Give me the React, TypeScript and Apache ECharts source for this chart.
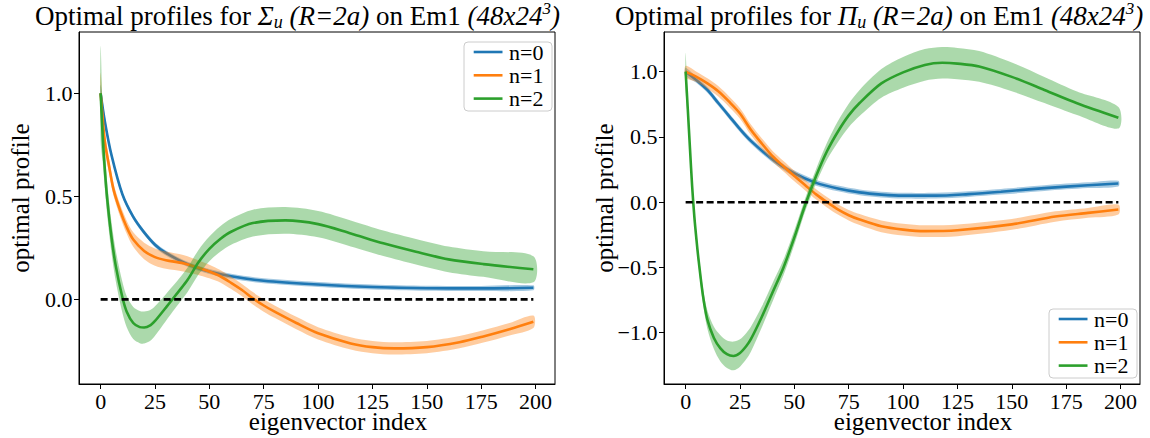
import React, { useEffect, useRef } from "react";
import * as echarts from "echarts";

// ---------- data ----------
// Left panel: Sigma_u
const sigX0 = [0, 2, 5, 10, 15, 20, 25, 30, 40, 50, 60, 75, 100, 125, 150, 175, 199];
const sigY0 = [1.0, 0.86, 0.70, 0.51, 0.40, 0.325, 0.265, 0.225, 0.17, 0.135, 0.112, 0.09, 0.072, 0.06, 0.054, 0.053, 0.056];
const sigE0 = [0.04, 0.025, 0.015, 0.012, 0.012, 0.012, 0.012, 0.012, 0.012, 0.012, 0.012, 0.012, 0.012, 0.012, 0.012, 0.012, 0.012];

const sigX1 = [0, 1, 2, 4, 6, 9, 12, 15, 20, 25, 30, 38, 46, 50, 55, 60, 65, 70, 75, 80, 90, 100, 115, 125, 135, 150, 165, 176, 188, 199];
const sigY1 = [1.0, 0.87, 0.76, 0.64, 0.53, 0.43, 0.35, 0.29, 0.235, 0.205, 0.19, 0.175, 0.15, 0.135, 0.112, 0.08, 0.045, 0.005, -0.03, -0.06, -0.115, -0.165, -0.214, -0.232, -0.238, -0.232, -0.208, -0.18, -0.145, -0.109];
const sigE1 = [0.1, 0.06, 0.045, 0.035, 0.03, 0.03, 0.032, 0.035, 0.04, 0.042, 0.042, 0.04, 0.035, 0.033, 0.03, 0.03, 0.03, 0.03, 0.03, 0.03, 0.03, 0.03, 0.03, 0.03, 0.03, 0.03, 0.03, 0.03, 0.03, 0.03];

const sigX2 = [0, 1, 2, 3, 5, 7, 10, 12, 15, 18, 20, 23, 25, 30, 33, 36, 40, 45, 50, 55, 60, 70, 85, 100, 115, 130, 145, 160, 176, 199];
const sigY2 = [1.0, 0.78, 0.62, 0.49, 0.30, 0.16, 0.01, -0.06, -0.115, -0.135, -0.137, -0.125, -0.105, -0.04, 0.0, 0.04, 0.095, 0.18, 0.245, 0.293, 0.328, 0.37, 0.383, 0.365, 0.32, 0.272, 0.231, 0.194, 0.171, 0.146];
const sigE2 = [0.23, 0.12, 0.09, 0.08, 0.075, 0.075, 0.075, 0.075, 0.078, 0.078, 0.078, 0.075, 0.072, 0.065, 0.062, 0.06, 0.06, 0.06, 0.06, 0.062, 0.063, 0.065, 0.065, 0.064, 0.063, 0.062, 0.062, 0.062, 0.062, 0.063];

// Right panel: Pi_u
const piX0 = [0, 5, 10, 15, 20, 25, 30, 40, 50, 60, 70, 80, 90, 100, 115, 130, 145, 165, 185, 199];
const piY0 = [1.0, 0.935, 0.86, 0.76, 0.66, 0.56, 0.47, 0.327, 0.22, 0.148, 0.105, 0.075, 0.058, 0.05, 0.05, 0.062, 0.08, 0.108, 0.13, 0.143];
const piE0 = [0.03, 0.022, 0.022, 0.022, 0.022, 0.022, 0.022, 0.022, 0.022, 0.022, 0.022, 0.022, 0.022, 0.022, 0.022, 0.022, 0.022, 0.022, 0.022, 0.022];

const piX1 = [0, 5, 10, 15, 20, 25, 30, 35, 40, 45, 50, 55, 60, 65, 70, 75, 80, 90, 100, 110, 125, 150, 170, 185, 199];
const piY1 = [1.0, 0.96, 0.91, 0.85, 0.77, 0.68, 0.555, 0.45, 0.352, 0.275, 0.2, 0.13, 0.06, 0.0, -0.055, -0.1, -0.133, -0.185, -0.21, -0.222, -0.215, -0.17, -0.11, -0.082, -0.056];
const piE1 = [0.045, 0.04, 0.04, 0.04, 0.04, 0.04, 0.04, 0.04, 0.04, 0.04, 0.04, 0.04, 0.04, 0.04, 0.04, 0.04, 0.042, 0.045, 0.045, 0.045, 0.045, 0.042, 0.04, 0.038, 0.038];

const piX2 = [0, 1, 2, 3, 4, 5, 6, 8, 10, 13, 16, 19, 22, 25, 28, 30, 35, 40, 45, 50, 55, 60, 65, 70, 75, 80, 90, 100, 110, 118, 125, 135, 150, 165, 180, 199];
const piY2 = [1.0, 0.71, 0.41, 0.12, -0.11, -0.29, -0.45, -0.72, -0.9, -1.04, -1.12, -1.165, -1.178, -1.155, -1.1, -1.05, -0.88, -0.69, -0.5, -0.27, -0.02, 0.2, 0.39, 0.54, 0.665, 0.76, 0.91, 0.995, 1.052, 1.068, 1.062, 1.04, 0.96, 0.86, 0.758, 0.647];
const piE2 = [0.145, 0.08, 0.06, 0.05, 0.05, 0.05, 0.05, 0.06, 0.07, 0.085, 0.1, 0.105, 0.11, 0.105, 0.1, 0.095, 0.08, 0.07, 0.06, 0.055, 0.05, 0.055, 0.065, 0.08, 0.09, 0.1, 0.11, 0.118, 0.121, 0.121, 0.12, 0.118, 0.11, 0.1, 0.09, 0.083];

const zeroLineX = [0, 199];
const zeroLineY = [0, 0];

const seriesNames = ["n=0", "n=1", "n=2"];
const xTicks = [0, 25, 50, 75, 100, 125, 150, 175, 200];
const yTicksLeft = [0, 0.5, 1.0];
const yTicksRight = [-1.0, -0.5, 0, 0.5, 1.0];

// ---------- styles / layout ----------
const COLORS = ["#1f77b4", "#ff7f0e", "#2ca02c"];
const BAND = ["rgba(31,119,180,0.4)", "rgba(255,127,14,0.4)", "rgba(44,160,44,0.4)"];
const FONT = "Liberation Serif";
const X_MIN = -9.95;
const X_MAX = 208.95;
const Y_RANGES = [
  [-0.411, 1.2976],
  [-1.393, 1.304],
];
const LEGEND_BOXES = [
  { x: 464, y: 42, w: 88, h: 69 },
  { x: 1049, y: 309, w: 88, h: 69 },
];
const SMALL = 22 / 25; // tick & legend text drawn at 25px, scaled to 22px

const zip = (xs: number[], ys: number[]) => xs.map((x, i) => [x, ys[i]]);

function bandSeries(idx: number, xs: number[], ys: number[], es: number[], color: string, z: number) {
  return {
    type: "custom",
    xAxisIndex: idx,
    yAxisIndex: idx,
    z,
    silent: true,
    data: [[xs[0], ys[0]]],
    renderItem: (_p: any, api: any) => {
      const upper = xs.map((x, i) => api.coord([x, ys[i] + es[i]]));
      const lower = xs.map((x, i) => api.coord([x, ys[i] - es[i]])).reverse();
      return {
        type: "polygon",
        shape: { points: upper.concat(lower), smooth: 0.3 },
        style: { fill: color, stroke: null },
      };
    },
  };
}

function lineSeries(idx: number, name: string, xs: number[], ys: number[], color: string, z: number) {
  return {
    type: "line",
    name,
    xAxisIndex: idx,
    yAxisIndex: idx,
    z,
    data: zip(xs, ys),
    showSymbol: false,
    symbol: "none",
    smooth: 0.3,
    itemStyle: { color },
    lineStyle: { color, width: 2.6 },
  };
}

const fmtY = (v: number) => (v < 0 ? "\u2212" : "") + Math.abs(v).toFixed(1);
const fmtX = (v: number) => String(v);

function xAxisCfg(idx: number) {
  return {
    type: "value",
    gridIndex: idx,
    min: X_MIN,
    max: X_MAX,
    splitLine: { show: false },
    axisLine: { show: true, onZero: false, lineStyle: { color: "#000", width: 1 } },
    axisTick: { show: true, length: 5, customValues: xTicks, lineStyle: { color: "#000", width: 1 } },
    axisLabel: { show: false },
  };
}

function yAxisCfg(idx: number, ticks: number[]) {
  return {
    type: "value",
    gridIndex: idx,
    min: Y_RANGES[idx][0],
    max: Y_RANGES[idx][1],
    splitLine: { show: false },
    axisLine: { show: true, onZero: false, lineStyle: { color: "#000", width: 1 } },
    axisTick: { show: true, length: 5, customValues: ticks, lineStyle: { color: "#000", width: 1 } },
    axisLabel: { show: false },
  };
}

const TS = 27;
const titleRich = {
  a: { fontFamily: FONT, fontSize: TS, fontWeight: "normal", color: "#000", lineHeight: 31, verticalAlign: "middle" },
  b: { fontFamily: FONT, fontSize: TS, fontStyle: "italic", fontWeight: "normal", color: "#000", lineHeight: 31, verticalAlign: "middle" },
  s: { fontFamily: FONT, fontSize: 18, fontStyle: "italic", fontWeight: "normal", color: "#000", lineHeight: 31, verticalAlign: "bottom" },
  p: { fontFamily: FONT, fontSize: 17, fontStyle: "italic", fontWeight: "normal", color: "#000", lineHeight: 31, verticalAlign: "top" },
};

const txt = (x: number, y: number, text: string, align: string, vAlign: string, extra: any = {}) => ({
  type: "text",
  x,
  y,
  z: 100,
  silent: true,
  ...extra,
  style: { text, font: `25px ${FONT}`, fill: "#000", align, verticalAlign: vAlign },
});

export default function App() {
  const ref = useRef<HTMLDivElement>(null);
  useEffect(() => {
    document.body.style.margin = "0";
    if (!ref.current) return;
    const chart = echarts.init(ref.current, null, { renderer: "svg" });

    const sig = [
      [sigX0, sigY0, sigE0],
      [sigX1, sigY1, sigE1],
      [sigX2, sigY2, sigE2],
    ];
    const pi = [
      [piX0, piY0, piE0],
      [piX1, piY1, piE1],
      [piX2, piY2, piE2],
    ];
    const series: any[] = [];
    [sig, pi].forEach((panel, p) => {
      panel.forEach((s, n) => {
        series.push(bandSeries(p, s[0], s[1], s[2], BAND[n], 10 + n * 2));
        series.push(lineSeries(p, seriesNames[n], s[0], s[1], COLORS[n], 11 + n * 2));
      });
      series.push({
        type: "line",
        xAxisIndex: p,
        yAxisIndex: p,
        z: 30,
        silent: true,
        data: zip(zeroLineX, zeroLineY),
        showSymbol: false,
        symbol: "none",
        lineStyle: { color: "#000", width: 2.6, type: [7, 3.5] },
      });
    });

    chart.setOption({
      animation: false,
      backgroundColor: "#fff",
      title: [
        {
          text: "{a|Optimal profiles for }{b|\u03A3}{s|u}{b| (R=2a)}{a| on Em1 }{b|(48x24}{p|3}{b|)}",
          left: 35,
          top: 0,
          padding: 0,
          textStyle: { rich: titleRich },
        },
        {
          text: "{a|Optimal profiles for }{b|\u03A0}{s|u}{b| (R=2a)}{a| on Em1 }{b|(48x24}{p|3}{b|)}",
          left: 615,
          top: 0,
          padding: 0,
          textStyle: { rich: titleRich },
        },
      ],
      grid: [
        { left: 79, right: 595, top: 32, bottom: 54, show: true, borderColor: "#000", borderWidth: 1, backgroundColor: "transparent" },
        { left: 664, right: 10, top: 32, bottom: 54, show: true, borderColor: "#000", borderWidth: 1, backgroundColor: "transparent" },
      ],
      xAxis: [xAxisCfg(0), xAxisCfg(1)],
      yAxis: [yAxisCfg(0, yTicksLeft), yAxisCfg(1, yTicksRight)],
      series,
    });

    // Tick labels placed through the axes' own scales, then legends and axis titles.
    const sc = { scaleX: SMALL, scaleY: SMALL };
    const g: any[] = [];
    [yTicksLeft, yTicksRight].forEach((yTicks, p) => {
      xTicks.forEach((v) => {
        const pt = chart.convertToPixel({ gridIndex: p }, [v, Y_RANGES[p][0]]) as number[];
        g.push(txt(pt[0], pt[1] + 17.5, fmtX(v), "center", "middle", sc));
      });
      yTicks.forEach((v) => {
        const pt = chart.convertToPixel({ gridIndex: p }, [X_MIN, v]) as number[];
        g.push(txt(pt[0] - 6.5, pt[1], fmtY(v), "right", "middle", sc));
      });
      const b = LEGEND_BOXES[p];
      g.push({
        type: "rect",
        z: 100,
        silent: true,
        shape: { x: b.x, y: b.y, width: b.w, height: b.h, r: 4 },
        style: { fill: "rgba(255,255,255,0.8)", stroke: "#cccccc", lineWidth: 1 },
      });
      seriesNames.forEach((name, n) => {
        const cy = b.y + 10 + n * 23.3;
        g.push({
          type: "line",
          z: 100,
          silent: true,
          shape: { x1: b.x + 9.7, y1: cy, x2: b.x + 38.5, y2: cy },
          style: { stroke: COLORS[n], lineWidth: 2.6 },
        });
        g.push(txt(b.x + 45, cy, name, "left", "middle", sc));
      });
    });
    g.push(txt(338, 421, "eigenvector index", "center", "middle"));
    g.push(txt(923, 421, "eigenvector index", "center", "middle"));
    g.push(txt(20, 198, "optimal profile", "center", "middle", { rotation: Math.PI / 2 }));
    g.push(txt(604, 198, "optimal profile", "center", "middle", { rotation: Math.PI / 2 }));
    chart.setOption({ graphic: g });

    return () => chart.dispose();
  }, []);
  return <div ref={ref} style={{ width: 1150, height: 438 }} />;
}
